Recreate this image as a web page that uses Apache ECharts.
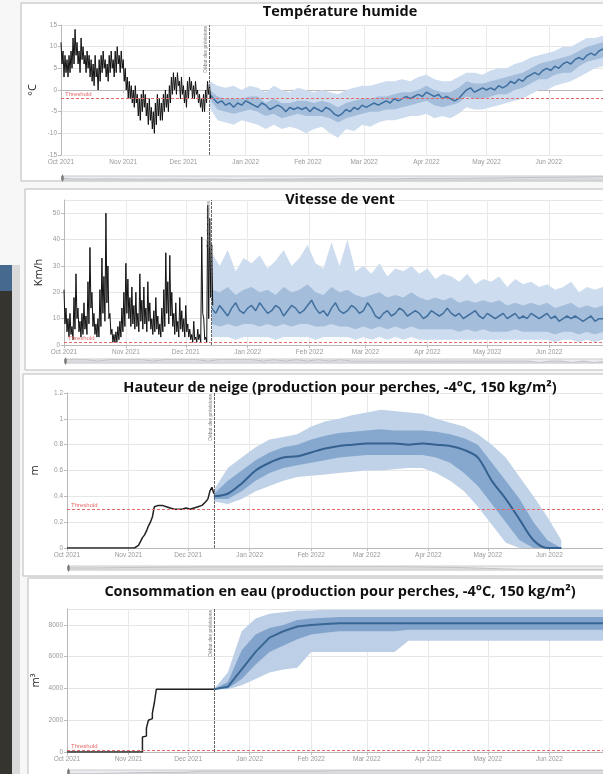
<!DOCTYPE html>
<html><head><meta charset="utf-8">
<script src="https://cdn.jsdelivr.net/npm/echarts@6/dist/echarts.min.js"></script>
<style>html,body{margin:0;padding:0;background:#f7f7f7}#c{width:603px;height:774px}</style>
</head><body><div id="c"></div><script>
// ---------- tick labels / categories ----------
const monthNames = ['Jan','Feb','Mar','Apr','May','Jun','Jul','Aug','Sep','Oct','Nov','Dec'];
const titles = ['Température humide','Vitesse de vent','Hauteur de neige (production pour perches, -4°C, 150 kg/m²)','Consommation en eau (production pour perches, -4°C, 150 kg/m²)'];
const unitNames = ['°C','Km/h','m','m³'];
const forecastLabel = 'Début des prévisions';
const thresholdLabel = 'Threshold';
const endDay = 270;          // days after 1 Oct 2021 (right edge)
const forecastStartDay = 74; // 14 Dec 2021

// ---------- Température humide ----------
const tempObsMax = [11,9,8,7,8,9,12,14,11,9, 12,10,8,9,8,7,6,8,5,7, 8,9,7,6,8,9,7,9,10,8, 9,7,5,3,2,1,0,1,-1,-2, -1,0,-1,-3,-2,-4,-5,-3,-1,-2, -3,-1,0,-1,1,3,4,3,4,2, 3,1,0,2,3,2,1,2,0,-1, -2,-1,0,2,1];
const tempObsMin = [6,3,4,3,4,5,6,8,6,4, 7,6,4,5,3,2,1,3,0,2, 4,5,3,2,4,5,3,4,6,4, 5,2,0,-2,-2,-3,-4,-3,-6,-7, -5,-4,-6,-8,-7,-9,-10,-8,-6,-7, -7,-5,-4,-5,-3,-1,0,-1,1,-2, -1,-3,-4,-2,0,-2,-2,-1,-3,-4, -5,-5,-3,-1,-2];
const tempMedian = [-1,-2,-3,-2.5,-3.5,-3,-4,-3,-3.5,-2.5,-3, -3.5,-4,-3,-3.5,-4.5,-4,-3.5,-4,-5,-4,-4.5,-4, -4.5,-4,-5,-4,-4.5,-5,-4,-4.5,-5.5,-6,-5.5, -4.5,-5,-4,-4.5,-3.5,-4,-3.5, -3,-3.5,-3,-2.5,-3,-2,-2.5,-2,-1.5,-2, -1.5,-1,-1.5,-0.5,-1,-1.5,-1,-2,-1.5,-2, -2.5,-2,-1,0,0.5,-0.5,0,0.5,0,0.5, 0,1,0.5,1,2,1.5,2.5,2,3,3.5, 4,3.5,4.5,5,4.5,5.5,5,6,6.5,6, 7,7.5,7,8,8.5,8,9,9.5];
const tempInnerLo = [-2,-4.5,-5,-5.5,-5,-4.5,-5,-6,-5.5,-6.5, -6,-5.5,-6,-6,-6,-6.5,-7.5,-6.5,-6,-5.5, -5,-5,-4.5,-4.5,-4,-3.5,-3,-2.5,-3.5,-4, -3.5,-3,-1.5,-2,-2,-1.5,-1,-1,0,0.5, 1.5,2.5,2.5,3.5,4,4,5.5,6.5,7,7.5];
const tempInnerHi = [0,-1.5,-2,-2,-2,-1.5,-1.5,-3,-2,-3, -3,-2.5,-2.5,-3,-2.5,-3,-4,-3,-2.5,-2, -2,-1.5,-1.5,-1,-0.5,-0.5,0,1,0,-0.5, -0.5,0.5,2,1.5,1.5,2,2.5,3,3.5,4, 5,6,6.5,7,7.5,8,9,10,10.5,11];
const tempOuterLo = [-4,-7,-7.5,-8,-7,-7.5,-8,-9,-8,-9, -8.5,-9,-10,-9,-8.5,-10,-11,-9,-9.5,-8, -8.5,-7.5,-7,-7,-6.5,-6,-6,-5.5,-6.5,-6, -6.5,-5.5,-4,-4.5,-4.5,-4,-3.5,-3,-2.5,-2, -1,0,0,1,1.5,2,3,4,5,5.5];
const tempOuterHi = [2,1,0.5,1,0,1,0.5,-0.5,1,0, -0.5,0.5,0,-0.5,0,-0.5,-1,0,0.5,1, 1,1.5,2,2,2.5,2,3,3.5,2.5,2, 2,3,4,4,3.5,4.5,5,5,6,6.5, 7.5,8,8.5,9,10,10,11,12,12,12.5];
const tempThreshold = -2;

// ---------- Vitesse de vent ----------
const windObsMax = [21,14,10,12,7,18,27,14,9,12, 16,11,24,37,20,12,8,10,21,33, 26,50,30,12,6,4,5,7,9,14, 20,31,25,18,22,15,20,12,27,17, 22,14,24,16,10,13,18,11,8,14, 21,35,24,34,20,12,16,9,18,13, 10,15,8,6,4,9,3,6,4,41, 10,3,53,48,38];
const windObsMin = [8,5,3,4,2,6,10,5,3,4, 6,4,8,14,7,4,3,3,7,12, 9,16,10,4,1,1,1,2,3,5, 7,12,10,7,8,6,7,5,9,6, 8,5,9,6,4,5,6,4,3,5, 7,12,8,11,7,4,5,3,6,5, 3,5,3,2,1,2,1,2,1,12, 2,1,10,18,15];
const windMedian = [14,12,15,13,11,14,16,13,12,14,15, 13,16,14,12,13,15,14,11,13,15,14,12, 13,15,17,14,12,13,11,14,16,13,12, 13,15,14,12,13,16,14, 11,10,12,13,11,12,14,13,11,12, 13,12,10,11,13,12,11,12,14,12, 11,12,10,11,12,13,11,10,12,11, 10,11,12,10,11,12,10,11,10,12, 11,10,11,12,10,11,9,10,11,10, 11,10,9,10,11,9,10,10];
const windInnerLo = [8,7,8,7,8,8,7,8,7,8, 7,8,8,7,7,8,7,7,6,7, 6,7,6,7,6,7,6,6,6,6, 6,5,6,5,6,5,5,5,6,5, 5,5,5,4,5,5,4,5,4,5];
const windInnerHi = [21,20,22,19,21,22,20,21,19,22, 20,21,23,20,19,22,20,21,19,18, 19,20,18,19,18,20,18,17,18,17, 18,16,17,16,17,16,17,15,16,15, 16,15,16,14,15,16,14,15,14,15];
const windOuterLo = [3,3,3,2,3,3,3,3,2,3, 3,3,3,2,3,3,3,3,2,3, 2,3,2,3,2,3,2,2,2,2, 2,2,2,2,2,2,2,2,2,2, 2,2,2,1,2,2,1,2,1,2];
const windOuterHi = [35,30,36,28,33,31,34,29,32,36, 30,33,38,31,29,39,30,40,28,30, 27,31,26,29,28,30,27,29,25,27, 26,24,27,23,25,24,26,22,25,23, 24,22,23,21,22,24,20,22,21,22];
const windThreshold = 1;

// ---------- Hauteur de neige ----------
const snowObs = [0,0,0,0,0,0,0,0,0,0, 0,0,0,0,0,0,0,0,0,0, 0,0,0,0,0,0,0,0,0,0, 0,0,0,0,0,0, 0.02,0.05,0.08,0.10,0.13,0.17,0.20,0.24,0.32, 0.33,0.33,0.32,0.33,0.32,0.32,0.31,0.31,0.30,0.30, 0.29,0.30,0.29,0.30,0.30,0.31,0.30,0.30,0.31,0.31, 0.31,0.32,0.32,0.33,0.34,0.36,0.38,0.44,0.47,0.42];
const snowMedian = [0.40,0.42,0.50,0.60,0.66,0.70,0.71,0.74,0.77,0.79,0.80,0.81,0.81,0.81,0.80,0.81,0.80,0.79,0.76,0.70,0.52,0.38,0.22,0.06,0,0];
const snowInnerLo = [0.38,0.38,0.44,0.52,0.58,0.62,0.64,0.66,0.68,0.70,0.71,0.72,0.72,0.72,0.72,0.72,0.70,0.66,0.58,0.48,0.34,0.20,0.06,0,0,0];
const snowInnerHi = [0.42,0.52,0.60,0.68,0.74,0.78,0.80,0.84,0.87,0.89,0.90,0.91,0.92,0.91,0.91,0.91,0.90,0.88,0.85,0.80,0.66,0.52,0.38,0.20,0.06,0];
const snowOuterLo = [0.36,0.34,0.38,0.44,0.48,0.52,0.55,0.56,0.57,0.58,0.59,0.60,0.60,0.61,0.62,0.62,0.58,0.52,0.44,0.32,0.18,0.04,0,0,0,0];
const snowOuterHi = [0.45,0.62,0.70,0.78,0.84,0.86,0.88,0.94,0.98,1.00,1.03,1.05,1.07,1.06,1.05,1.04,1.00,0.97,0.94,0.88,0.80,0.70,0.55,0.40,0.24,0.06];
const snowThreshold = 0.3;

// ---------- Consommation en eau ----------
const waterObs = [0,0,0,0,0,0,0,0,0,0, 0,0,0,0,0,0,0,0,0,0, 0,0,0,0,0,0,0,0,0,0, 0,0,0,0,0,0,0,0, 950,1000,1500,2000,2100,2450,3100, 3950,3950,3950,3950,3950,3950,3950,3950,3950,3950, 3950,3950,3950,3950,3950,3950,3950,3950,3950,3950, 3950,3950,3950,3950,3950,3950,3950,3950,3950,3950];
const waterMedian = [3950,4100,5200,6300,7200,7600,7900,8000,8050,8100,8100,8100,8100,8100,8100,8100,8100,8100,8100,8100,8100,8100,8100,8100,8100,8100,8100,8100,8100];
const waterInnerLo = [3950,4000,4600,5500,6300,6700,7100,7400,7500,7600,7600,7600,7600,7600,7700,7700,7700,7700,7700,7700,7700,7700,7700,7700,7700,7700,7700,7700,7700];
const waterInnerHi = [3950,4400,6400,7400,7800,8000,8300,8400,8450,8500,8500,8500,8500,8500,8500,8500,8500,8500,8500,8500,8500,8500,8500,8500,8500,8500,8500,8500,8500];
const waterOuterLo = [3950,3950,4200,4600,5000,5200,5300,6300,6300,6300,6300,6300,6300,6300,7000,7000,7000,7000,7000,7000,7000,7000,7000,7000,7000,7000,7000,7000,7000];
const waterOuterHi = [3950,5000,7600,8400,8700,8800,8900,8900,8950,8950,8950,8950,8950,8950,8950,8950,8950,8950,8950,8950,8950,8950,8950,8950,8950,8950,8950,8950,8950];
const waterThreshold = 100;

// ---------- helpers ----------
const DAY = 86400000;
const ts = d => Date.UTC(2021, 9, 1) + d * DAY;
const daysFrom = (n, step) => Array.from({length:n}, (_, i) => forecastStartDay + i * step);
const pairs = (days, vals) => vals.map((v, i) => [ts(days[i]), v]);
function zigzag(hi, lo){
  const out = [];
  hi.forEach((h, i) => { out.push([ts(i), h]); out.push([ts(i + 0.5), lo[i]]); });
  return out;
}
function band(idx, days, lo, hi, color, id){
  const base = {type:'line', xAxisIndex:idx, yAxisIndex:idx, symbol:'none', silent:true,
    stack:id, stackStrategy:'all', lineStyle:{opacity:0}, animation:false};
  return [
    Object.assign({}, base, {data: pairs(days, lo)}),
    Object.assign({}, base, {data: pairs(days, hi.map((h, i) => h - lo[i])), areaStyle:{color:color, opacity:1}})
  ];
}
function marks(idx, thr){
  return {silent:true, symbol:'none', animation:false, data:[
    {yAxis:thr, lineStyle:{color:'#e46a6a', type:[3,2], width:1},
     label:{show:true, position:'insideStartTop', formatter:thresholdLabel, color:'#e46a6a', fontSize:6, distance:[4,1]}},
    {xAxis:ts(forecastStartDay), lineStyle:{color:'#666', type:[3,1], width:1},
     label:{show:true, position:'insideEndTop', formatter:forecastLabel, color:'#777', fontSize:5, distance:1}}
  ]};
}

const grids = [
  {left:61, right:0, top:25, height:130},
  {left:64, right:0, top:200, height:145},
  {left:67, right:0, top:393, height:155},
  {left:67, right:0, top:609, height:143}
];
const yDefs = [
  {min:-15, max:15, interval:5, gap:23},
  {min:0, max:55, interval:10, gap:20},
  {min:0, max:1.2, interval:0.2, gap:27},
  {min:0, max:9000, interval:2000, gap:26}
];
const sliderTops = [174, 357, 564, 768];

const xAxes = grids.map((g, i) => ({
  type:'time', gridIndex:i, min:ts(0), max:ts(endDay), splitNumber:9,
  minInterval:28*DAY, maxInterval:31*DAY,
  axisLine:{show:true, lineStyle:{color:'#b8b8b8'}},
  axisTick:{show:true, length:3, lineStyle:{color:'#bbb'}},
  splitLine:{show:true, lineStyle:{color:'#e9e9e9'}},
  axisLabel:{fontSize:6.5, color:'#999', margin:4, hideOverlap:false,
    formatter: v => { const d = new Date(v); return monthNames[d.getUTCMonth()] + ' ' + d.getUTCFullYear(); }}
}));
const yAxes = yDefs.map((y, i) => ({
  type:'value', gridIndex:i, min:y.min, max:y.max, interval:y.interval,
  name:unitNames[i], nameLocation:'middle', nameGap:y.gap, nameRotate:90, nameMoveOverlap:false,
  nameTextStyle:{fontSize:11, color:'#222', fontFamily:'Open Sans'},
  axisLine:{show:true, lineStyle:{color:'#b8b8b8'}},
  axisTick:{show:true, length:3, lineStyle:{color:'#bbb'}},
  splitLine:{show:true, lineStyle:{color:'#e6e6e6'}},
  axisLabel:{fontSize:6.5, color:'#999', margin:4, showMaxLabel: i === 0 || i === 2,
    formatter: v => String(Math.round(v * 100) / 100)}
}));

const d2 = daysFrom(tempMedian.length, 2);
const d4 = daysFrom(tempInnerLo.length, 4);
const d7s = daysFrom(snowMedian.length, 7);
const d7w = daysFrom(waterMedian.length, 7);

const series = [
  // panel 1
  ...band(0, d4, tempOuterLo, tempOuterHi, '#cddcee', 't1'),
  ...band(0, d4, tempInnerLo, tempInnerHi, '#a3bddb', 't2'),
  {type:'line', xAxisIndex:0, yAxisIndex:0, symbol:'none', data:pairs(d2, tempMedian), lineStyle:{color:'#3f6f9f', width:1.5}, animation:false},
  {type:'line', xAxisIndex:0, yAxisIndex:0, symbol:'none', data:zigzag(tempObsMax, tempObsMin), lineStyle:{color:'#111', width:1}, animation:false, markLine:marks(0, tempThreshold)},
  // panel 2
  ...band(1, d4, windOuterLo, windOuterHi, '#cddcee', 'w1'),
  ...band(1, d4, windInnerLo, windInnerHi, '#a3bddb', 'w2'),
  {type:'line', xAxisIndex:1, yAxisIndex:1, symbol:'none', data:pairs(d2, windMedian), lineStyle:{color:'#416f9e', width:1.5}, animation:false},
  {type:'line', xAxisIndex:1, yAxisIndex:1, symbol:'none', data:zigzag(windObsMax, windObsMin), lineStyle:{color:'#111', width:1}, animation:false, markLine:marks(1, windThreshold)},
  // panel 3
  ...band(2, d7s, snowOuterLo, snowOuterHi, '#bfd2e8', 's1'),
  ...band(2, d7s, snowInnerLo, snowInnerHi, '#86a8cf', 's2'),
  {type:'line', xAxisIndex:2, yAxisIndex:2, symbol:'none', smooth:0.3, data:pairs(d7s, snowMedian), lineStyle:{color:'#34618f', width:2}, animation:false},
  {type:'line', xAxisIndex:2, yAxisIndex:2, symbol:'none', data:snowObs.map((v, i) => [ts(i), v]), lineStyle:{color:'#222', width:1.5}, animation:false, markLine:marks(2, snowThreshold)},
  // panel 4
  ...band(3, d7w, waterOuterLo, waterOuterHi, '#bccfe6', 'e1'),
  ...band(3, d7w, waterInnerLo, waterInnerHi, '#82a4cc', 'e2'),
  {type:'line', xAxisIndex:3, yAxisIndex:3, symbol:'none', data:pairs(d7w, waterMedian), lineStyle:{color:'#3a6694', width:2}, animation:false},
  {type:'line', xAxisIndex:3, yAxisIndex:3, symbol:'none', step:'end', data:waterObs.map((v, i) => [ts(i), v]), lineStyle:{color:'#222', width:1.5}, animation:false, markLine:marks(3, waterThreshold)}
];

const dataZoom = grids.map((g, i) => ({
  type:'slider', xAxisIndex:i, left:g.left - 2, right:0, top:sliderTops[i], height:5,
  showDetail:false, brushSelect:false, moveHandleSize:0, handleSize:'140%',
  borderColor:'#d0d0d0', backgroundColor:'rgba(0,0,0,0)', fillerColor:'rgba(170,180,195,0.25)',
  handleStyle:{color:'#888', borderColor:'#777'},
  dataBackground:{lineStyle:{color:'#aaa', width:0.5}, areaStyle:{color:'#c8c8c8'}},
  selectedDataBackground:{lineStyle:{color:'#999', width:0.5}, areaStyle:{color:'#bbb'}},
  start:0, end:100, filterMode:'none'
}));

const frames = [
  {x:21, y:3, w:600, h:178},
  {x:25, y:189, w:600, h:181},
  {x:23, y:374, w:600, h:202},
  {x:28, y:578, w:600, h:210}
];
const titleY = [12, 200, 388, 592];
const graphic = [
  {type:'rect', z:-100, shape:{x:0, y:265, width:12, height:509}, style:{fill:'#36342f'}},
  {type:'rect', z:-100, shape:{x:0, y:265, width:12, height:26}, style:{fill:'#45698f'}},
  {type:'rect', z:-100, shape:{x:12, y:265, width:8, height:509}, style:{fill:'#dadada'}},
  ...frames.map(f => ({type:'rect', z:-100, shape:{x:f.x, y:f.y, width:f.w, height:f.h}, style:{fill:'#fff', stroke:'#b9b9b9', lineWidth:1}})),
  ...titles.map((t, i) => ({type:'text', z:100, x:340, y:titleY[i], style:{text:t, align:'center', verticalAlign:'middle', fill:'#111', font:'bold 14.5px "Open Sans"'}}))
];

const chart = echarts.init(document.getElementById('c'), null, {renderer:'canvas'});
chart.setOption({
  backgroundColor:'#f7f7f7', useUTC:true, animation:false,
  grid:grids.map(g => Object.assign({outerBoundsMode:'none'}, g)),
  xAxis:xAxes, yAxis:yAxes, dataZoom:dataZoom, series:series, graphic:graphic
});
</script></body></html>
